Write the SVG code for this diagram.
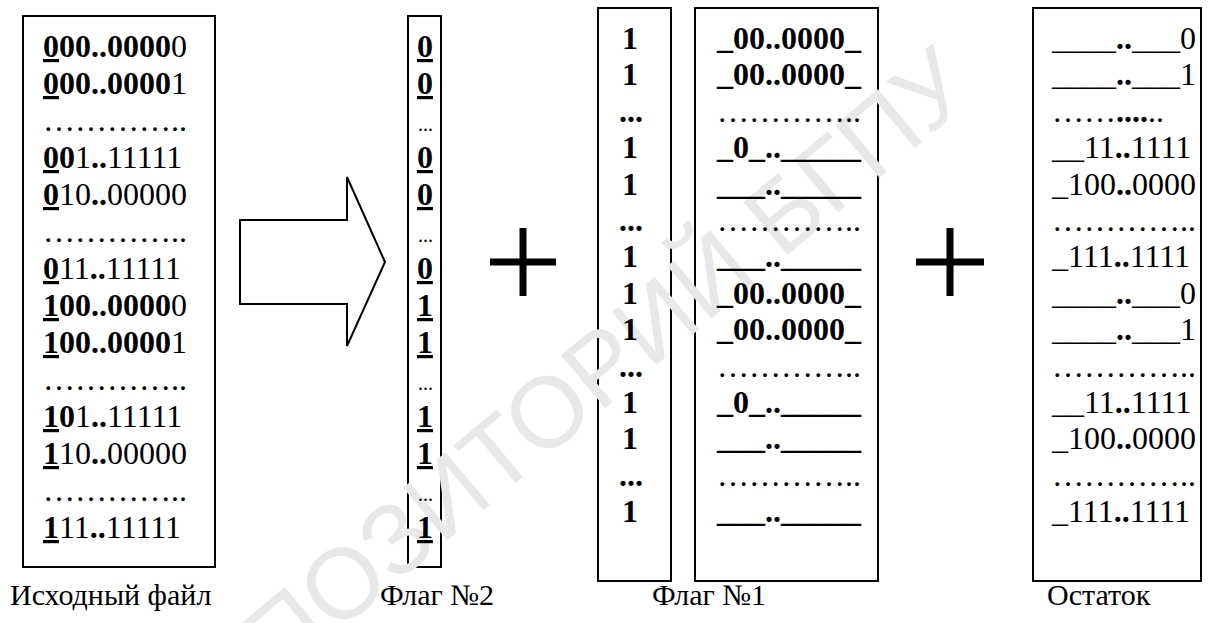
<svg xmlns="http://www.w3.org/2000/svg" width="1225" height="623" viewBox="0 0 1225 623">
  <style>
    .t { font-family: "Liberation Serif", "Times New Roman", serif; font-size: 32px; fill: #000; }
    .b { font-weight: bold; }
    .u { text-decoration: underline; }
    .sd { font-size: 20px; }
    .lbl { font-family: "Liberation Serif", "Times New Roman", serif; font-size: 30px; fill: #000; }
    .box { fill: #fff; stroke: #000; stroke-width: 2; }
    .wm { font-family: "Liberation Sans", Arial, sans-serif; font-size: 100px; fill: #e8e8e8; }
  </style>

  <rect width="1225" height="623" fill="#fff"/>

  <!-- source file -->
  <g id="source-file">
    <rect class="box" x="23" y="16" width="192" height="551"/>
  </g>

  <!-- block arrow -->
  <g id="arrow">
    <path d="M240,220 H347 V177 L385,262 L347,346 V304 H240 Z" fill="#fff" stroke="#000" stroke-width="2" stroke-linejoin="miter"/>
  </g>

  <!-- flag 2 -->
  <g id="flag-2">
    <rect class="box" x="408" y="16" width="33" height="551"/>
  </g>

  <!-- flag 1, leading column and bit patterns -->
  <g id="flag-1-ones">
    <rect class="box" x="598" y="8" width="73" height="573"/>
  </g>
  <g id="flag-1-bits">
    <rect class="box" x="695" y="8" width="183" height="573"/>
  </g>

  <!-- remainder -->
  <g id="remainder">
    <rect class="box" x="1033" y="8" width="168" height="573"/>
  </g>

  <!-- repository watermark, under the texts -->
  <g id="watermark">
    <text class="wm" text-anchor="end" transform="translate(977,96) rotate(-40)">РЕПОЗИТОРИЙ БГПУ</text>
  </g>

  <!-- texts of the source file -->
  <g id="source-file-text">
    <text class="t" x="43" y="57"><tspan class="b u">0</tspan><tspan class="b">00..0000</tspan>0</text>
    <text class="t" x="43" y="94"><tspan class="b u">0</tspan><tspan class="b">00..0000</tspan>1</text>
    <text class="t" x="43" y="131">…………..</text>
    <text class="t" x="43" y="168"><tspan class="b u">0</tspan><tspan class="b">0</tspan>1<tspan class="b">..</tspan>11111</text>
    <text class="t" x="43" y="205"><tspan class="b u">0</tspan>10<tspan class="b">..</tspan>00000</text>
    <text class="t" x="43" y="242">…………..</text>
    <text class="t" x="43" y="279"><tspan class="b u">0</tspan>11<tspan class="b">..</tspan>11111</text>
    <text class="t" x="43" y="316"><tspan class="b u">1</tspan><tspan class="b">00..0000</tspan>0</text>
    <text class="t" x="43" y="353"><tspan class="b u">1</tspan><tspan class="b">00..0000</tspan>1</text>
    <text class="t" x="43" y="390">…………..</text>
    <text class="t" x="43" y="427"><tspan class="b u">1</tspan><tspan class="b">0</tspan>1<tspan class="b">..</tspan>11111</text>
    <text class="t" x="43" y="464"><tspan class="b u">1</tspan>10<tspan class="b">..</tspan>00000</text>
    <text class="t" x="43" y="501">…………..</text>
    <text class="t" x="43" y="538"><tspan class="b u">1</tspan>11<tspan class="b">..</tspan>11111</text>
  </g>

  <!-- texts of flag 2 -->
  <g id="flag-2-text">
    <text class="t b u" x="417" y="57">0</text>
    <text class="t b u" x="417" y="94">0</text>
    <text class="t sd" x="418" y="131">...</text>
    <text class="t b u" x="417" y="168">0</text>
    <text class="t b u" x="417" y="205">0</text>
    <text class="t sd" x="418" y="242">...</text>
    <text class="t b u" x="417" y="279">0</text>
    <text class="t b u" x="417" y="316">1</text>
    <text class="t b u" x="417" y="353">1</text>
    <text class="t sd" x="418" y="390">...</text>
    <text class="t b u" x="417" y="427">1</text>
    <text class="t b u" x="417" y="464">1</text>
    <text class="t sd" x="418" y="501">...</text>
    <text class="t b u" x="417" y="538">1</text>
  </g>

  <!-- plus signs -->
  <g id="plus-1">
    <path d="M490,262 H556 M523,228 V296" stroke="#000" stroke-width="7" fill="none"/>
  </g>
  <g id="plus-2">
    <path d="M916,262 H984 M950,228 V296" stroke="#000" stroke-width="7" fill="none"/>
  </g>

  <!-- texts of flag 1 -->
  <g id="flag-1-ones-text">
    <text class="t b" x="622" y="49">1</text>
    <text class="t b" x="622" y="85">1</text>
    <text class="t b" x="619" y="122">...</text>
    <text class="t b" x="622" y="158">1</text>
    <text class="t b" x="622" y="195">1</text>
    <text class="t b" x="619" y="231">...</text>
    <text class="t b" x="622" y="267">1</text>
    <text class="t b" x="622" y="304">1</text>
    <text class="t b" x="622" y="340">1</text>
    <text class="t b" x="619" y="377">...</text>
    <text class="t b" x="622" y="413">1</text>
    <text class="t b" x="622" y="449">1</text>
    <text class="t b" x="619" y="486">...</text>
    <text class="t b" x="622" y="522">1</text>
  </g>
  <g id="flag-1-bits-text">
    <text class="t b" x="717" y="49">_00..0000_</text>
    <text class="t b" x="717" y="85">_00..0000_</text>
    <text class="t" x="717" y="122">…………..</text>
    <text class="t b" x="717" y="158">_0_.._____</text>
    <text class="t b" x="717" y="195">___.._____</text>
    <text class="t" x="717" y="231">…………..</text>
    <text class="t b" x="717" y="267">___.._____</text>
    <text class="t b" x="717" y="304">_00..0000_</text>
    <text class="t b" x="717" y="340">_00..0000_</text>
    <text class="t" x="717" y="377">…………..</text>
    <text class="t b" x="717" y="413">_0_.._____</text>
    <text class="t b" x="717" y="449">___.._____</text>
    <text class="t" x="717" y="486">…………..</text>
    <text class="t b" x="717" y="522">___.._____</text>
  </g>

  <!-- texts of the remainder -->
  <g id="remainder-text">
    <text class="t" x="1052" y="49">____<tspan class="b">..</tspan>___0</text>
    <text class="t" x="1052" y="85">____<tspan class="b">..</tspan>___1</text>
    <text class="t" x="1052" y="122">……<tspan class="b">....</tspan>..</text>
    <text class="t" x="1052" y="158">__11<tspan class="b">..</tspan>1111</text>
    <text class="t" x="1052" y="195">_100<tspan class="b">..</tspan>0000</text>
    <text class="t" x="1052" y="231">…………..</text>
    <text class="t" x="1052" y="267">_111<tspan class="b">..</tspan>1111</text>
    <text class="t" x="1052" y="304">____<tspan class="b">..</tspan>___0</text>
    <text class="t" x="1052" y="340">____<tspan class="b">..</tspan>___1</text>
    <text class="t" x="1052" y="377">…………..</text>
    <text class="t" x="1052" y="413">__11<tspan class="b">..</tspan>1111</text>
    <text class="t" x="1052" y="449">_100<tspan class="b">..</tspan>0000</text>
    <text class="t" x="1052" y="486">…………..</text>
    <text class="t" x="1052" y="522">_111<tspan class="b">..</tspan>1111</text>
  </g>

  <!-- captions -->
  <g id="captions">
    <text class="lbl" x="10" y="605">Исходный файл</text>
    <text class="lbl" x="380" y="605">Флаг №2</text>
    <text class="lbl" x="652" y="605">Флаг №1</text>
    <text class="lbl" x="1047" y="605">Остаток</text>
  </g>
</svg>
